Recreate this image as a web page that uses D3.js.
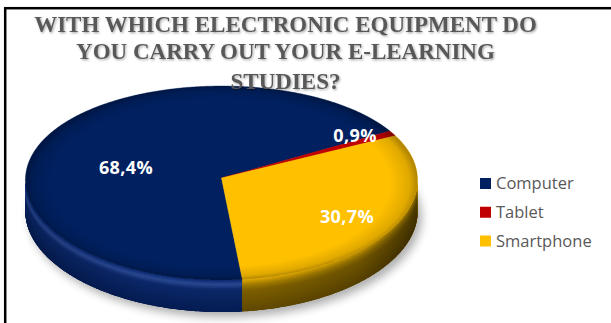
<!DOCTYPE html>
<html>
<head>
<meta charset="utf-8">
<script src="https://cdn.jsdelivr.net/npm/d3@7"></script>
<style>
  html, body { margin: 0; padding: 0; background: #fff; }
  svg { display: block; }
</style>
</head>
<body>
<svg id="chart" width="611" height="323"></svg>
<script>
// ---- data ----
const categories = ["Computer", "Tablet", "Smartphone"];
const values = [68.4, 0.9, 30.7];
const labels = ["68,4%", "0,9%", "30,7%"];
const titleLines = ["WITH WHICH ELECTRONIC EQUIPMENT DO", "YOU CARRY OUT YOUR E-LEARNING", "STUDIES?"];

// ---- style / layout ----
const topColors = ["#002060", "#C00000", "#FFC000"];
const sideStops = [
  [[0, "#0e2d75"], [0.12, "#2a4890"], [0.28, "#0c2868"], [1, "#051c52"]],
  [[0, "#a00000"], [0.3, "#700000"], [1, "#500000"]],
  [[0, "#d9a300"], [0.15, "#a17b00"], [0.32, "#7d5f00"], [1, "#5f4700"]]
];
const labelPos = [[126, 174], [355, 142], [347, 223]];

const W = 611, H = 323;
const cx = 221.5, cy = 178, rx = 196, ry = 97, ky = 0.052, kx = 0.02, depth = 32;
const deg = Math.PI / 180;
const startA = 174 * deg;

const svg = d3.select("#chart");
const defs = svg.append("defs");

function proj(a, f, dz) {
  const u = f * Math.sin(a), v = -f * Math.cos(a);
  return [cx + rx * u * (1 + kx * v), cy + ry * v * (1 + ky * v) + (dz || 0)];
}
function arcPts(a0, a1, f, dz) {
  const n = Math.max(2, Math.ceil(Math.abs(a1 - a0) / (0.5 * deg)));
  return d3.range(n + 1).map(i => proj(a0 + (a1 - a0) * i / n, f, dz));
}
const line = d3.line().curve(d3.curveLinear);

// frame
svg.append("rect").attr("x", 5.2).attr("y", 8.2).attr("width", W + 10).attr("height", H + 10)
  .attr("fill", "none").attr("stroke", "#000").attr("stroke-width", 2.5);

// filters
const shf = defs.append("filter").attr("id", "pieShadow").attr("x", "-20%").attr("y", "-20%").attr("width", "140%").attr("height", "140%");
shf.append("feGaussianBlur").attr("stdDeviation", 5);
const tf = defs.append("filter").attr("id", "titleShadow").attr("x", "-5%").attr("y", "-30%").attr("width", "110%").attr("height", "160%");
tf.append("feDropShadow").attr("dx", 1).attr("dy", 1.2).attr("stdDeviation", 1).attr("flood-color", "#000").attr("flood-opacity", 0.35);

const rg = defs.append("radialGradient").attr("id", "rimShade").attr("cx", "50%").attr("cy", "50%").attr("r", "50%");
rg.append("stop").attr("offset", "0.86").attr("stop-color", "#000").attr("stop-opacity", 0);
rg.append("stop").attr("offset", "0.96").attr("stop-color", "#000").attr("stop-opacity", 0.12);
rg.append("stop").attr("offset", "1").attr("stop-color", "#000").attr("stop-opacity", 0.3);

const hs = defs.append("linearGradient").attr("id", "sideH").attr("gradientUnits", "userSpaceOnUse")
  .attr("x1", cx - rx).attr("x2", cx + rx).attr("y1", 0).attr("y2", 0);
[[0, 0.12], [0.3, 0.0], [0.6, 0.0], [0.85, 0.12], [1, 0.4]].forEach(s =>
  hs.append("stop").attr("offset", s[0]).attr("stop-color", "#000").attr("stop-opacity", s[1]));

const pie = d3.pie().sort(null).value(d => d).startAngle(startA).endAngle(startA + 2 * Math.PI);
const arcs = pie(values);

// shadow under pie
svg.append("path").attr("d", line(arcPts(0, 2 * Math.PI, 1, depth)) + "Z")
  .attr("transform", "translate(4,5)")
  .attr("fill", "#000").attr("opacity", 0.32).attr("filter", "url(#pieShadow)");

// sides
const gSide = svg.append("g");
arcs.forEach((d, i) => {
  for (let k = 0; k < 2; k++) {
    const lo = Math.PI / 2 + 2 * Math.PI * k, hi = 3 * Math.PI / 2 + 2 * Math.PI * k;
    const s = Math.max(d.startAngle, lo), e = Math.min(d.endAngle, hi);
    if (e <= s) continue;
    const interp = d3.scaleLinear().domain(sideStops[i].map(p => p[0])).range(sideStops[i].map(p => p[1])).interpolate(d3.interpolateRgb);
    const top = arcPts(s, e, 1, 0), bot = arcPts(s, e, 1, depth).reverse();
    const outline = line(top.concat(bot)) + "Z";
    const clipId = "sideClip" + i + "_" + k;
    defs.append("clipPath").attr("id", clipId).append("path").attr("d", outline);
    const g = gSide.append("g").attr("clip-path", "url(#" + clipId + ")");
    g.append("path").attr("d", outline).attr("fill", interp(0.7));
    const nb = 40;
    for (let j = nb; j >= 0; j--) {
      const z = depth * j / nb;
      g.append("path").attr("d", line(arcPts(s - 0.02, e + 0.02, 1, z)))
        .attr("fill", "none").attr("stroke", interp(j / nb)).attr("stroke-width", 2.2);
    }
    g.append("path").attr("d", outline).attr("fill", "url(#sideH)");
  }
});

// top faces
const gTop = svg.append("g");
arcs.forEach((d, i) => {
  const pts = [proj(0, 0)].concat(arcPts(d.startAngle, d.endAngle, 1, 0));
  gTop.append("path").attr("d", line(pts) + "Z").attr("fill", topColors[i])
    .attr("stroke", topColors[i]).attr("stroke-width", 0.4);
});
gTop.append("path").attr("d", line(arcPts(0, 2 * Math.PI, 1, 0)) + "Z").attr("fill", "url(#rimShade)");

// data labels
svg.append("g").selectAll("text").data(arcs).join("text")
  .attr("x", (d, i) => labelPos[i][0]).attr("y", (d, i) => labelPos[i][1])
  .attr("text-anchor", "middle")
  .attr("font-family", "'Open Sans', sans-serif").attr("font-weight", "bold")
  .attr("font-size", 18).attr("letter-spacing", 0.4).attr("fill", "#fff")
  .text((d, i) => labels[i]);

// title
const titleY = [32, 58.5, 89];
svg.append("g").attr("filter", "url(#titleShadow)").selectAll("text").data(titleLines).join("text")
  .attr("x", 285.5).attr("y", (d, i) => titleY[i])
  .attr("text-anchor", "middle")
  .attr("font-family", "'Liberation Serif', 'Times New Roman', serif").attr("font-weight", "bold")
  .attr("font-size", 23).attr("fill", "#595959")
  .text(d => d);

// legend
const lg = svg.append("g");
const ly = d3.scalePoint().domain(categories).range([189, 246.5]);
categories.forEach((c, i) => {
  const y = ly(c);
  lg.append("rect").attr("x", 480).attr("y", y - 11).attr("width", 11).attr("height", 11)
    .attr("fill", topColors[i]);
  lg.append("text").attr("x", 496).attr("y", y)
    .attr("font-family", "'Open Sans', sans-serif").attr("font-size", 16.5)
    .attr("fill", "#595959").text(c);
});
</script>
</body>
</html>
